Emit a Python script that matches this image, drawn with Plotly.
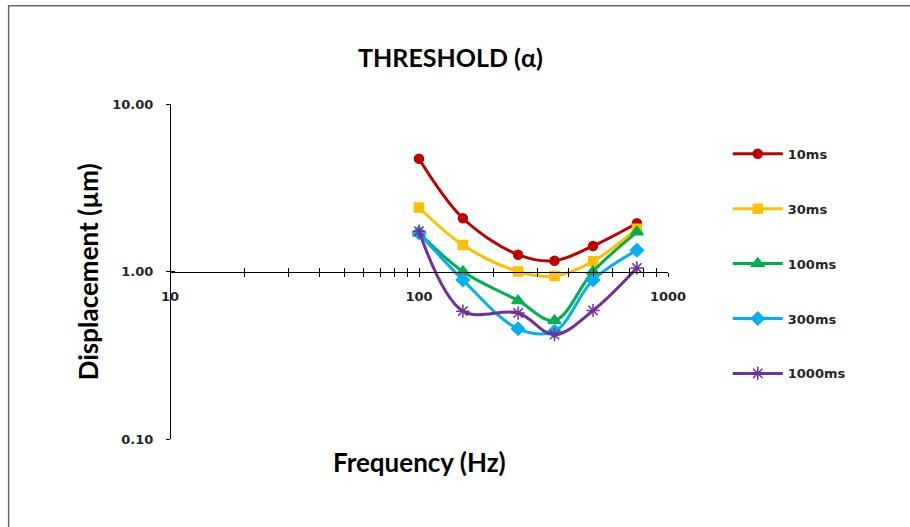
import plotly.graph_objects as go

# Stimulus frequency (Hz) and displacement thresholds (µm) per pulse duration
freq = [100, 150, 250, 350, 500, 750]
thr_10ms = [4.71, 2.08, 1.26, 1.16, 1.42, 1.94]
thr_30ms = [2.41, 1.44, 1.00, 0.94, 1.15, 1.80]
thr_100ms = [1.70, 1.00, 0.67, 0.51, 1.00, 1.72]
thr_300ms = [1.70, 0.89, 0.455, 0.44, 0.89, 1.34]
thr_1000ms = [1.74, 0.58, 0.565, 0.42, 0.585, 1.05]

series_names = ["10ms", "30ms", "100ms", "300ms", "1000ms"]
series_values = [thr_10ms, thr_30ms, thr_100ms, thr_300ms, thr_1000ms]
colors = ["#C00000", "#FFC000", "#00B050", "#00B0F0", "#7030A0"]
symbols = ["circle", "square", "triangle-up", "diamond", "asterisk-open"]
sizes = [9, 9, 11, 10, 11]

x_major = [10, 100, 1000]
x_major_text = ["10", "100", "1000"]
x_minor = [20, 30, 40, 50, 60, 70, 80, 90, 200, 300, 400, 500, 600, 700, 800, 900]
y_major = [0.1, 1, 10]
y_major_text = ["0.10", "1.00", "10.00"]

TICK_FONT = dict(family="DejaVu Sans", size=13, color="#262626", weight="bold")
TITLE_FONT = "Lato"

fig = go.Figure()
for i, (name, vals) in enumerate(zip(series_names, series_values)):
    fig.add_trace(go.Scatter(
        x=freq, y=vals, name=name, mode="lines+markers",
        line=dict(color=colors[i], width=3, shape="spline", smoothing=1.0),
        marker=dict(symbol=symbols[i], size=sizes[i], color=colors[i],
                    line=dict(color=colors[i], width=1.5)),
        legendgroup=name,
    ))

# empty trace so the overlay axes (inner half of crossing ticks) get drawn
fig.add_trace(go.Scatter(x=[], y=[], xaxis="x2", yaxis="y2", showlegend=False, hoverinfo="skip"))

common_x = dict(type="log", range=[1, 3], showgrid=False, zeroline=False,
                tickmode="array", tickvals=x_major, ticklen=4, tickwidth=1, tickcolor="black")
common_y = dict(type="log", range=[-1, 1], showgrid=False, zeroline=False,
                tickmode="array", tickvals=y_major, ticklen=4, tickwidth=1, tickcolor="black")

fig.update_layout(
    width=910, height=527,
    margin=dict(l=170, r=242, t=104, b=88),
    paper_bgcolor="white", plot_bgcolor="white",
    showlegend=True,
    xaxis=dict(**common_x, anchor="free", position=0.5, ticks="outside",
               ticktext=x_major_text, tickfont=TICK_FONT, ticklabelstandoff=9,
               showline=True, linecolor="black", linewidth=1,
               minor=dict(tickmode="array", tickvals=x_minor, ticks="outside",
                          ticklen=4, tickwidth=1, tickcolor="black", showgrid=False)),
    xaxis2=dict(**common_x, overlaying="x", anchor="free", position=0.5, ticks="inside",
                showticklabels=False, showline=False,
                minor=dict(tickmode="array", tickvals=x_minor, ticks="inside",
                           ticklen=4, tickwidth=1, tickcolor="black", showgrid=False)),
    yaxis=dict(**common_y, anchor="free", position=0, ticks="outside",
               ticktext=y_major_text, tickfont=TICK_FONT, ticklabelstandoff=10,
               showline=True, linecolor="black", linewidth=1),
    yaxis2=dict(**common_y, overlaying="y", anchor="free", position=0, side="left",
                ticks="inside", showticklabels=False, showline=False),
    legend=dict(x=1.12, y=0.896, xanchor="left", yanchor="top",
                font=dict(family="DejaVu Sans", size=13, color="#262626", weight="bold"),
                itemwidth=50, tracegroupgap=35, bgcolor="rgba(0,0,0,0)"),
    title=dict(text="<b>THRESHOLD (α)</b>", x=0.495, xanchor="center",
               y=0.89, yanchor="middle",
               font=dict(family=TITLE_FONT, size=25, color="black")),
)

# axis titles
fig.add_annotation(text="<b>Frequency (Hz)</b>", xref="paper", yref="paper",
                   x=0.5, y=-0.07, xanchor="center", yanchor="middle", showarrow=False,
                   font=dict(family=TITLE_FONT, size=26, color="black"))
fig.add_annotation(text="<b>Displacement (µm)</b>", xref="paper", yref="paper",
                   x=-0.165, y=0.5, xanchor="center", yanchor="middle", showarrow=False,
                   textangle=-90, font=dict(family=TITLE_FONT, size=26, color="black"))

# chart frame
fig.add_shape(type="rect", xref="paper", yref="paper",
              x0=-0.324, x1=2.0, y0=-1.0, y1=1.293,
              line=dict(color="#6a6a6a", width=1.5), fillcolor="rgba(0,0,0,0)", layer="below")

fig.write_html("out.html")
